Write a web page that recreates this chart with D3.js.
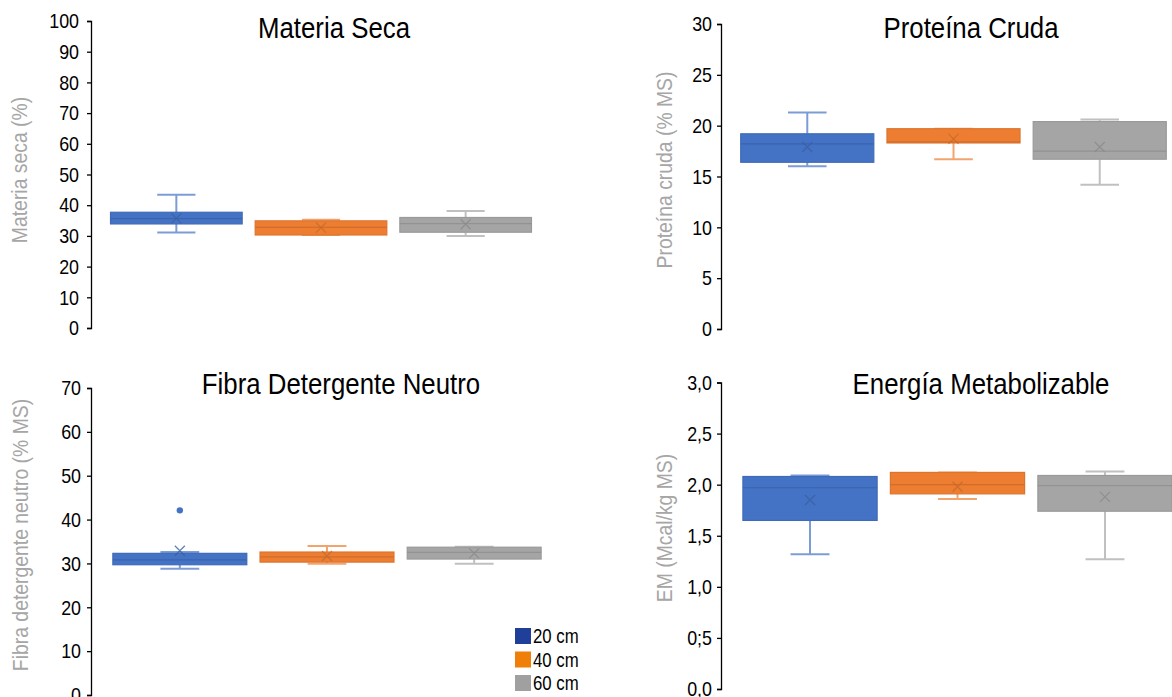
<!DOCTYPE html>
<html>
<head>
<meta charset="utf-8">
<script src="https://cdn.jsdelivr.net/npm/d3@7"></script>
<style>
  body { margin: 0; background: #fff; }
  svg text { font-family: "Liberation Sans", Arial, sans-serif; }
</style>
</head>
<body>
<svg id="chart"></svg>
<script>
var W = 1172, H = 697;

// series
var series = ["20 cm", "40 cm", "60 cm"];
var boxColors = ["#4472c4", "#ed7d31", "#a5a5a5"];
var legendColors = ["#1f3f99", "#f07f0a", "#a0a0a0"];

// [min, q1, median, q3, max] per series
var materiaSeca = [[31.1, 33.9, 35.6, 37.7, 43.4], [30.3, 30.3, 32.8, 34.9, 35.3], [30.0, 31.2, 34.0, 36.0, 38.1]];
var materiaSecaMean = [35.7, 32.7, 33.8];
var materiaSecaOut = [[], [], []];

var proteina = [[16.0, 16.4, 18.2, 19.2, 21.3], [16.7, 18.3, 18.4, 19.7, 19.7], [14.2, 16.7, 17.5, 20.4, 20.6]];
var proteinaMean = [17.9, 18.7, 17.9];
var proteinaOut = [[], [], []];

var fibra = [[28.8, 29.7, 30.8, 32.3, 32.6], [29.9, 30.3, 31.5, 32.6, 34.0], [29.9, 31.0, 32.5, 33.7, 33.8]];
var fibraMean = [32.9, 31.7, 32.3];
var fibraOut = [[42.1], [], []];

var energia = [[1.32, 1.65, 1.97, 2.08, 2.09], [1.86, 1.91, 2.00, 2.12, 2.12], [1.27, 1.74, 1.99, 2.09, 2.13]];
var energiaMean = [1.85, 1.98, 1.88];
var energiaOut = [[], [], []];

// tick values / labels
var msTicks = [0, 10, 20, 30, 40, 50, 60, 70, 80, 90, 100];
var pcTicks = [0, 5, 10, 15, 20, 25, 30];
var fdnTicks = [0, 10, 20, 30, 40, 50, 60, 70];
var emTicks = [0, 0.5, 1, 1.5, 2, 2.5, 3];
var emTickLabels = ["0,0", "0;5", "1,0", "1,5", "2,0", "2,5", "3,0"];

var panels = [
  { title: "Materia Seca", label: "Materia seca (%)", data: materiaSeca, mean: materiaSecaMean, out: materiaSecaOut,
    ticks: msTicks, tickLabels: null, dom: [0, 100],
    ax: 91, band: [91, 551], y0: 328, y1: 21, pad: 8, tx: 334, ty: 38, lx: 19, ly: 170 },
  { title: "Proteína Cruda", label: "Proteína cruda (% MS)", data: proteina, mean: proteinaMean, out: proteinaOut,
    ticks: pcTicks, tickLabels: null, dom: [0, 30],
    ax: 721, band: [721, 1186], y0: 329, y1: 24, pad: 5, tx: 971, ty: 38, lx: 664, ly: 170 },
  { title: "Fibra Detergente Neutro", label: "Fibra detergente neutro (% MS)", data: fibra, mean: fibraMean, out: fibraOut,
    ticks: fdnTicks, tickLabels: null, dom: [0, 70],
    ax: 91, band: [93, 561], y0: 695, y1: 388, pad: 6, tx: 341, ty: 394, lx: 20, ly: 535 },
  { title: "Energía Metabolizable", label: "EM (Mcal/kg MS)", data: energia, mean: energiaMean, out: energiaOut,
    ticks: emTicks, tickLabels: emTickLabels, dom: [0, 3],
    ax: 721, band: [723, 1192], y0: 689, y1: 382.5, pad: 5, tx: 981, ty: 394, lx: 664, ly: 528 }
];

var svg = d3.select("#chart").attr("width", W).attr("height", H);

// squeeze text horizontally (reference font is a narrow face)
function condense(sel, k) {
  sel.each(function() {
    var w = this.getComputedTextLength();
    d3.select(this).attr("textLength", w * k).attr("lengthAdjust", "spacingAndGlyphs");
  });
}

panels.forEach(function(p) {
  var g = svg.append("g");

  var y = d3.scaleLinear().domain(p.dom).range([p.y0, p.y1]);
  var x = d3.scaleBand().domain(series).range(p.band).paddingInner(0.09).paddingOuter(0.135);
  var bw = x.bandwidth();

  // axis
  var axis = d3.axisLeft(y).tickValues(p.ticks).tickSize(4).tickPadding(p.pad);
  if (p.tickLabels) axis.tickFormat(function(d, i) { return p.tickLabels[i]; });
  var ga = g.append("g").attr("transform", "translate(" + p.ax + ",0)").call(axis);
  ga.select(".domain").attr("stroke", "#000").attr("stroke-width", 1.3);
  ga.selectAll(".tick line").attr("stroke", "#000").attr("stroke-width", 1.3);
  ga.selectAll(".tick text").attr("fill", "#000").style("font-size", "21px")
    .style("font-family", "'Liberation Sans', Arial, sans-serif").call(condense, 0.85);

  // title
  g.append("text").attr("x", p.tx).attr("y", p.ty).attr("text-anchor", "middle")
    .style("font-size", "29px").attr("fill", "#000").text(p.title).call(condense, 0.89);

  // y label
  g.append("text").attr("transform", "translate(" + p.lx + "," + p.ly + ") rotate(-90)")
    .attr("text-anchor", "middle").attr("dy", "0.35em")
    .style("font-size", "22px").attr("fill", "#a6a6a6").text(p.label).call(condense, 0.88);

  // boxes
  series.forEach(function(s, i) {
    var d = p.data[i];
    var c = boxColors[i];
    var cx = x(s) + bw / 2;
    var cap = bw * 0.29;
    var wc = d3.interpolateRgb(c, "#fff")(0.3);
    var dark = d3.color(c).darker(0.5).toString();
    var b = g.append("g");

    // whiskers
    b.append("line").attr("x1", cx).attr("x2", cx).attr("y1", y(d[0])).attr("y2", y(d[1]))
      .attr("stroke", wc).attr("stroke-width", 2);
    b.append("line").attr("x1", cx).attr("x2", cx).attr("y1", y(d[3])).attr("y2", y(d[4]))
      .attr("stroke", wc).attr("stroke-width", 2);
    b.append("line").attr("x1", cx - cap / 2).attr("x2", cx + cap / 2).attr("y1", y(d[0])).attr("y2", y(d[0]))
      .attr("stroke", wc).attr("stroke-width", 2);
    b.append("line").attr("x1", cx - cap / 2).attr("x2", cx + cap / 2).attr("y1", y(d[4])).attr("y2", y(d[4]))
      .attr("stroke", wc).attr("stroke-width", 2);

    // box
    b.append("rect").attr("x", x(s)).attr("width", bw)
      .attr("y", y(d[3])).attr("height", y(d[1]) - y(d[3]))
      .attr("fill", c).attr("stroke", d3.color(c).darker(0.2)).attr("stroke-width", 1.2);

    // median
    b.append("line").attr("x1", x(s)).attr("x2", x(s) + bw).attr("y1", y(d[2])).attr("y2", y(d[2]))
      .attr("stroke", dark).attr("stroke-width", 1.2).attr("opacity", 0.7);

    // mean marker
    var my = y(p.mean[i]), m = 5;
    b.append("path").attr("d", "M" + (cx - m) + "," + (my - m) + "L" + (cx + m) + "," + (my + m) +
      "M" + (cx - m) + "," + (my + m) + "L" + (cx + m) + "," + (my - m))
      .attr("stroke", dark).attr("stroke-width", 1.2).attr("opacity", 0.8).attr("fill", "none");

    // outliers
    b.selectAll("circle").data(p.out[i]).enter().append("circle")
      .attr("cx", cx).attr("cy", function(v) { return y(v); }).attr("r", 3.2).attr("fill", c);
  });
});

// legend
var leg = svg.append("g").selectAll("g").data(series).enter().append("g")
  .attr("transform", function(d, i) { return "translate(515," + (628 + i * 23.5) + ")"; });
leg.append("rect").attr("width", 16).attr("height", 16)
  .attr("fill", function(d, i) { return legendColors[i]; });
leg.append("text").attr("x", 18).attr("y", 8).attr("dy", "0.36em")
  .style("font-size", "19.5px").attr("fill", "#000").text(function(d) { return d; }).call(condense, 0.86);
</script>
</body>
</html>
